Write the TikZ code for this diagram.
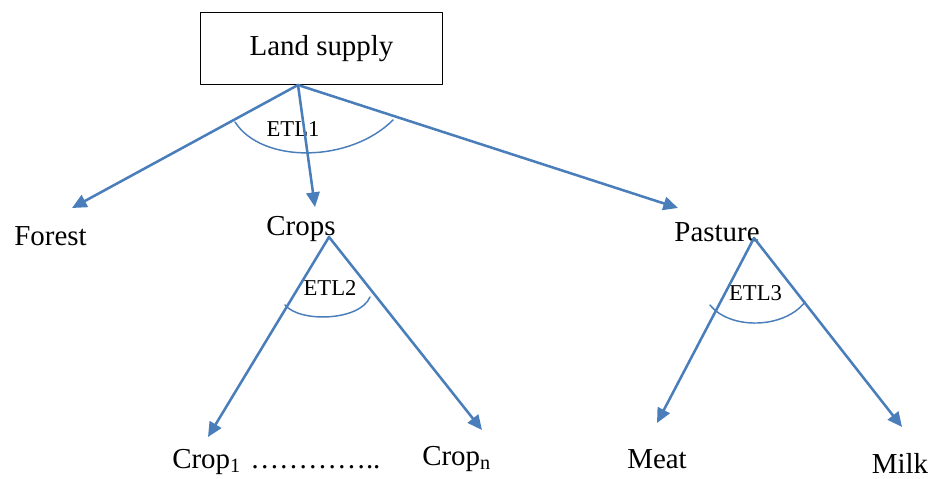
\documentclass[tikz,border=0pt]{standalone}
\usepackage{fontspec}
\setmainfont{Liberation Serif}
\usetikzlibrary{arrows.meta}
\definecolor{lineblue}{RGB}{74,126,187}
\begin{document}
\begin{tikzpicture}[x=0.75pt, y=-0.75pt,
    line cap=round, line join=round,
    arr/.style={draw=lineblue, line width=1.9pt, -{Triangle[length=11pt,width=10pt]}},
    bow/.style={draw=lineblue, line width=1.1pt},
    word/.style={inner sep=0pt, anchor=base, font=\fontsize{21.7}{24}\selectfont},
    etl/.style={inner sep=0pt, anchor=base, font=\fontsize{17}{20}\selectfont}]

    \useasboundingbox (0,0) rectangle (934,478);

    % top box
    \node[draw, line width=0.8pt, minimum width=182pt, minimum height=54.5pt,
          font=\fontsize{21.7}{24}\selectfont] (land) at (321.5,48.5) {Land supply};

    % labels
    \node[word] (forest)  at (50.5,245) {Forest};
    \node[word] (crops)   at (301,235) {Crops};
    \node[word] (pasture) at (717,241.5) {Pasture};
    \node[word, anchor=base west] (crop1) at (172,468) {Crop\textsubscript{1}};
    \node[word, anchor=base west] (dots)  at (250,468) {\ldots\ldots\ldots\ldots..};
    \node[word, anchor=base west] (cropn) at (422,465) {Crop\textsubscript{n}};
    \node[word] (meat) at (657,468) {Meat};
    \node[word] (milk) at (900,473) {Milk};

    \node[etl] (etl1) at (293,136) {ETL1};
    \node[etl] (etl2) at (330,295) {ETL2};
    \node[etl] (etl3) at (755.5,300) {ETL3};

    % start and end points of the arrows
    \coordinate (top)   at (298,85);
    \coordinate (cropstop) at (329,237);
    \coordinate (pastop) at (754,238);
    \coordinate (tforest) at (72,208);
    \coordinate (tcrops)  at (315,207);
    \coordinate (tpast)   at (678,208);
    \coordinate (tcrop1)  at (208,437);
    \coordinate (tcropn)  at (482,430);
    \coordinate (tmeat)   at (657,423);
    \coordinate (tmilk)   at (902,427);

    \draw[arr] (top) -- (tforest);
    \draw[arr] (top) -- (tcrops);
    \draw[arr] (top) -- (tpast);

    \draw[arr] (cropstop) -- (tcrop1);
    \draw[arr] (cropstop) -- (tcropn);
    \draw[arr] (pastop) -- (tmeat);
    \draw[arr] (pastop) -- (tmilk);

    % elasticity arcs
    \draw[bow] (235,122) .. controls (262,164) and (350,163) .. (393,120);
    \draw[bow] (285,305) .. controls (300,323) and (360,321) .. (370,297);
    \draw[bow] (710,305) .. controls (730,330) and (784,329) .. (805,302);

\end{tikzpicture}
\end{document}
